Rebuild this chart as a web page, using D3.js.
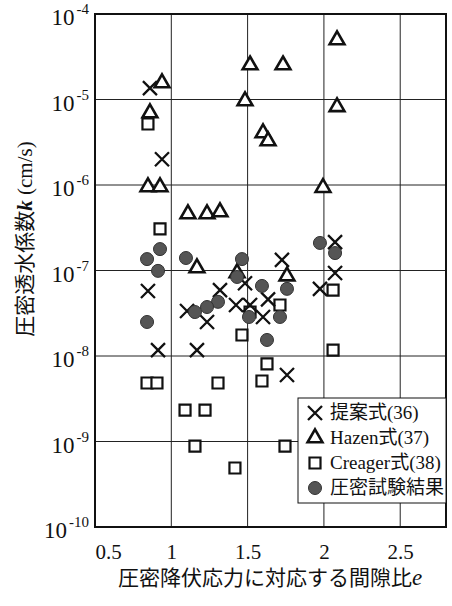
<!DOCTYPE html>
<html>
<head>
<meta charset="utf-8" />
<title>k - e</title>
<style type="text/css">
	body { margin: 0; background: #fff; }
	svg { display: block; }
	text { font-family: "Liberation Serif", "Noto Sans CJK JP", serif; fill: #111; }
</style>
</head>
<body>
<svg width="452" height="606"></svg>
<script src="https://d3js.org/d3.v7.min.js"></script>
<script type="text/javascript">
	// data: [間隙比 e, 透水係数 k (cm/s)]
	var proposed = [
		[0.860, 1.36e-5], [0.939, 2.0e-6], [0.847, 5.75e-8], [0.913, 1.17e-8], [1.168, 1.17e-8],
		[1.103, 3.36e-8], [1.234, 2.5e-8], [1.319, 5.9e-8], [1.483, 7.1e-8], [1.424, 3.95e-8],
		[1.516, 3.95e-8], [1.634, 4.6e-8], [1.601, 2.86e-8], [1.725, 1.33e-7], [2.073, 2.15e-7],
		[2.073, 9.35e-8], [1.974, 6.1e-8], [1.758, 6.0e-9]
	];
	var hazen = [
		[0.939, 1.56e-5], [0.860, 6.95e-6], [0.847, 9.5e-7], [0.926, 9.5e-7], [1.109, 4.58e-7],
		[1.234, 4.58e-7], [1.319, 4.83e-7], [1.516, 2.53e-5], [1.483, 9.6e-6], [1.601, 4.06e-6],
		[1.634, 3.27e-6], [1.732, 2.53e-5], [2.086, 4.97e-5], [2.086, 8.2e-6], [1.994, 9.3e-7],
		[1.168, 1.07e-7], [1.758, 8.6e-8], [1.431, 9.35e-8]
	];
	var creager = [
		[0.847, 5.17e-6], [0.926, 3.06e-7], [0.841, 4.83e-9], [0.906, 4.83e-9], [1.306, 4.83e-9],
		[1.090, 2.33e-9], [1.221, 2.33e-9], [1.155, 8.85e-10], [1.417, 4.9e-10], [1.463, 1.76e-8],
		[1.516, 3.27e-8], [1.594, 5.1e-9], [1.627, 8.1e-9], [1.712, 3.95e-8], [1.745, 8.85e-10],
		[2.060, 5.9e-8], [2.060, 1.17e-8]
	];
	var tests = [
		[0.926, 1.78e-7], [0.841, 1.36e-7], [0.913, 9.9e-8], [1.096, 1.40e-7], [1.463, 1.36e-7],
		[1.431, 8.4e-8], [1.594, 6.6e-8], [1.306, 4.3e-8], [1.234, 3.74e-8], [1.155, 3.27e-8],
		[1.509, 2.86e-8], [0.841, 2.5e-8], [1.627, 1.54e-8], [1.758, 6.1e-8], [1.712, 2.86e-8],
		[1.974, 2.1e-7], [2.073, 1.6e-7]
	];

	var xTicks = [0.5, 1, 1.5, 2, 2.5];
	var xGrid = [1, 1.5, 2, 2.5];
	var yExp = [-4, -5, -6, -7, -8, -9, -10];
	var legendLabels = ["提案式(36)", "Hazen式(37)", "Creager式(38)", "圧密試験結果"];

	var svg = d3.select("svg");
	var pLeft = 95, pRight = 446, pTop = 14, pBottom = 527;

	var x = d3.scaleLinear().domain([0.5, 2.8]).range([pLeft, pRight]);
	var y = d3.scaleLog().domain([1e-10, 1e-4]).range([pBottom, pTop]);

	// grid
	var grid = svg.append("g").attr("stroke", "#222").attr("stroke-width", 1);
	grid.selectAll(".gx").data(xGrid).enter().append("line")
		.attr("x1", function(d) { return x(d); }).attr("x2", function(d) { return x(d); })
		.attr("y1", pTop).attr("y2", pBottom);
	grid.selectAll(".gy").data(yExp.slice(1, -1)).enter().append("line")
		.attr("x1", pLeft).attr("x2", pRight)
		.attr("y1", function(d) { return y(Math.pow(10, d)); })
		.attr("y2", function(d) { return y(Math.pow(10, d)); });

	// x axis labels
	var xAxis = d3.axisBottom(x).tickValues(xTicks).tickSize(0).tickPadding(0)
		.tickFormat(function(d) { return String(d); });
	var gx = svg.append("g").attr("transform", "translate(0," + pBottom + ")").call(xAxis);
	gx.select(".domain").remove();
	gx.selectAll("text").attr("dy", null).attr("y", 32)
		.style("font-family", "Liberation Serif").style("font-size", "21px").attr("fill", "#111");
	gx.selectAll("text").filter(function(d) { return d === 0.5; }).attr("text-anchor", "start");

	// y axis labels 10^n
	var ylab = svg.append("g").selectAll("text").data(yExp).enter().append("text")
		.attr("x", 89)
		.attr("y", function(d) { return y(Math.pow(10, d)) + 11; })
		.attr("text-anchor", "end")
		.style("font-size", "23px");
	ylab.append("tspan").text("10");
	ylab.append("tspan").attr("dx", 2).attr("dy", -11).style("font-size", "15px").text(function(d) { return String(d); });

	// frame
	svg.append("rect").attr("x", pLeft).attr("y", pTop)
		.attr("width", pRight - pLeft).attr("height", pBottom - pTop)
		.attr("fill", "none").attr("stroke", "#111").attr("stroke-width", 2);

	// axis titles
	var xt = svg.append("text").attr("x", 270).attr("y", 585).attr("text-anchor", "middle")
		.style("font-size", "21px");
	xt.append("tspan").text("圧密降伏応力に対応する間隙比");
	xt.append("tspan").style("font-style", "italic").style("font-size", "23px").text("e");

	var yt = svg.append("text").attr("transform", "translate(32,239) rotate(-90)")
		.attr("text-anchor", "middle").style("font-size", "21px");
	yt.append("tspan").text("圧密透水係数");
	yt.append("tspan").style("font-style", "italic").style("font-weight", "bold").text("k");
	yt.append("tspan").text(" (cm/s)");

	// markers
	var triangle = d3.symbol().type(d3.symbolTriangle).size(95);
	var square = d3.symbol().type(d3.symbolSquare).size(121);
	var cross = "M-7,-7L7,7M-7,7L7,-7";

	function pos(d) { return "translate(" + x(d[0]) + "," + y(d[1]) + ")"; }

	var plot = svg.append("g");

	plot.selectAll(".sq").data(creager).enter().append("path")
		.attr("transform", pos).attr("d", square())
		.attr("fill", "#fff").attr("stroke", "#111").attr("stroke-width", 2.2);

	plot.selectAll(".tri").data(hazen).enter().append("path")
		.attr("transform", pos).attr("d", triangle())
		.attr("fill", "#fff").attr("stroke", "#111").attr("stroke-width", 2.6);

	plot.selectAll(".x").data(proposed).enter().append("path")
		.attr("transform", pos).attr("d", cross)
		.attr("fill", "none").attr("stroke", "#111").attr("stroke-width", 2.3);

	plot.selectAll(".c").data(tests).enter().append("circle")
		.attr("transform", pos).attr("r", 6.5)
		.attr("fill", "#555").attr("stroke", "#333").attr("stroke-width", 1);

	// legend
	var lg = svg.append("g");
	lg.append("rect").attr("x", 298).attr("y", 398).attr("width", pRight - 298).attr("height", 105)
		.attr("fill", "#fff").attr("stroke", "#111").attr("stroke-width", 1);
	var rows = lg.selectAll(".row").data(legendLabels).enter().append("g")
		.attr("transform", function(d, i) { return "translate(315," + (413 + i * 25) + ")"; });
	rows.append("text").attr("x", 15).attr("y", 6).style("font-size", "19px")
		.text(function(d) { return d; });
	rows.filter(function(d, i) { return i === 0; }).append("path").attr("d", cross)
		.attr("fill", "none").attr("stroke", "#111").attr("stroke-width", 2.3);
	rows.filter(function(d, i) { return i === 1; }).append("path").attr("d", triangle())
		.attr("fill", "#fff").attr("stroke", "#111").attr("stroke-width", 2.6);
	rows.filter(function(d, i) { return i === 2; }).append("path").attr("d", square())
		.attr("fill", "#fff").attr("stroke", "#111").attr("stroke-width", 2.2);
	rows.filter(function(d, i) { return i === 3; }).append("circle").attr("r", 6.5)
		.attr("fill", "#555").attr("stroke", "#333").attr("stroke-width", 1);
</script>
</body>
</html>
